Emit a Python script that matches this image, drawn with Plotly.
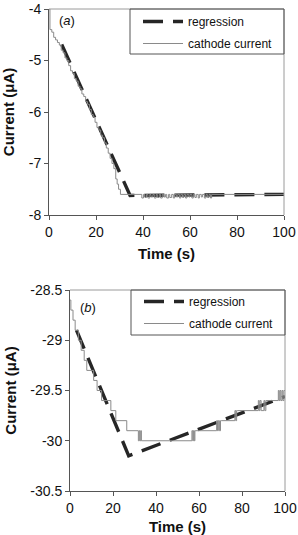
import plotly.graph_objects as go

# ---------------- data: panel (a) ----------------
a_reg_time = [5.4, 34.5, 100]
a_reg_current = [-4.69, -7.62, -7.6]

a_cur_time = [0, 0.4, 1.2, 2.0, 2.8, 3.6, 4.4, 5.2, 6.0, 6.8, 7.6, 8.4, 9.2, 10.0, 10.8,
              11.6, 12.4, 13.2, 14.0, 14.8, 15.6, 16.4, 17.2, 18.0, 18.8, 19.6, 20.4,
              21.2, 22.0, 22.8, 23.6, 24.4, 25.2, 26.0, 26.8, 27.6, 28.4, 29.0, 29.6,
              30.4,
              39.5, 40.2, 40.8, 41.5, 42.1, 42.9, 43.4, 44.2, 44.8, 45.6, 46.1, 46.9,
              47.5, 48.2, 48.8, 49.6, 50.1, 50.9, 51.4, 52.2, 52.9, 53.5, 54.2, 54.8,
              55.5, 56.1, 56.8, 57.4, 58.1, 58.7, 59.5, 60.0, 60.8, 61.4, 62.1, 62.7,
              63.5, 64.0, 64.8, 65.3, 66.1, 66.8, 67.4, 68.1, 68.7, 69.2,
              100]
a_cur_current = [-4.0, -4.4, -4.45, -4.55, -4.6, -4.65, -4.7, -4.8, -4.85, -4.95, -5.0,
                 -5.1, -5.2, -5.25, -5.35, -5.4, -5.5, -5.55, -5.65, -5.7, -5.8, -5.85,
                 -5.95, -6.05, -6.1, -6.2, -6.3, -6.35, -6.45, -6.5, -6.6, -6.7, -6.8,
                 -6.9, -7.0, -7.1, -7.3, -7.4, -7.5, -7.6,
                 -7.67, -7.6, -7.66, -7.6, -7.67, -7.6, -7.65, -7.6, -7.67, -7.6, -7.66,
                 -7.6, -7.67, -7.6, -7.65, -7.6, -7.67, -7.6, -7.66, -7.6, -7.67, -7.6,
                 -7.65, -7.6, -7.67, -7.6, -7.66, -7.6, -7.67, -7.6, -7.65, -7.6, -7.67,
                 -7.6, -7.66, -7.6, -7.67, -7.6, -7.65, -7.6, -7.67, -7.6, -7.66, -7.6,
                 -7.67, -7.6,
                 -7.6]

# ---------------- data: panel (b) ----------------
b_reg_time = [3.0, 27.3, 100]
b_reg_current = [-28.9, -30.15, -29.56]

b_cur_time = [0, 0.4, 1.4, 2.4, 3.9, 5.2, 6.6, 7.8, 9.3, 11.0, 12.6, 14.7, 19.0, 21.3,
              26.4, 31.8, 32.2, 32.5, 32.9, 33.2,
              56.7, 57.1, 57.4, 57.8, 58.1, 58.5,
              68.2, 68.6, 69.0, 69.5, 70.0, 70.6,
              76.7, 77.1, 77.5, 78.0,
              87.6, 88.0, 88.4, 88.9, 90.2, 90.6, 91.1, 91.6,
              96.9, 97.3, 97.7, 98.1, 98.6, 99.0, 99.5, 100]
b_cur_current = [-28.6, -28.7, -28.8, -28.9, -29.0, -29.1, -29.2, -29.3, -29.3, -29.4,
                 -29.5, -29.6, -29.7, -29.8, -29.9, -30.0, -29.9, -30.0, -29.9, -30.0,
                 -29.9, -30.0, -29.9, -30.0, -29.9, -29.9,
                 -29.8, -29.9, -29.8, -29.9, -29.8, -29.8,
                 -29.7, -29.8, -29.7, -29.7,
                 -29.6, -29.7, -29.6, -29.7, -29.6, -29.7, -29.6, -29.6,
                 -29.5, -29.6, -29.5, -29.6, -29.5, -29.6, -29.5, -29.5]

time_ticks = [0, 20, 40, 60, 80, 100]
a_y_ticks = [-8, -7, -6, -5, -4]
a_y_labels = ["-8", "-7", "-6", "-5", "-4"]
b_y_ticks = [-30.5, -30, -29.5, -29, -28.5]
b_y_labels = ["-30.5", "-30", "-29.5", "-29", "-28.5"]

FONT = "Liberation Sans, Arial, sans-serif"
REG_COLOR = "#262626"
CUR_COLOR = "#8a8a8a"
AX_COLOR = "#555555"

fig = go.Figure()

fig.add_trace(go.Scatter(x=a_reg_time, y=a_reg_current, mode="lines", name="regression",
                         line=dict(color=REG_COLOR, width=3.4, dash="20px,10px"),
                         xaxis="x", yaxis="y", legend="legend", legendgroup="a1"))
fig.add_trace(go.Scatter(x=a_cur_time, y=a_cur_current, mode="lines", name="cathode current",
                         line=dict(color=CUR_COLOR, width=1, shape="hv"),
                         xaxis="x", yaxis="y", legend="legend", legendgroup="a2"))
fig.add_trace(go.Scatter(x=b_reg_time, y=b_reg_current, mode="lines", name="regression",
                         line=dict(color=REG_COLOR, width=3.4, dash="20px,10px"),
                         xaxis="x2", yaxis="y2", legend="legend2", legendgroup="b1"))
fig.add_trace(go.Scatter(x=b_cur_time, y=b_cur_current, mode="lines", name="cathode current",
                         line=dict(color=CUR_COLOR, width=1, shape="hv"),
                         xaxis="x2", yaxis="y2", legend="legend2", legendgroup="b2"))

W, H = 298, 535

def xax(domain, anchor):
    return dict(domain=domain, anchor=anchor, range=[0, 100], tickvals=time_ticks,
                ticktext=[str(t) for t in time_ticks], automargin=False,
                showline=True, linecolor=AX_COLOR, linewidth=1, ticks="outside",
                ticklen=4, tickcolor=AX_COLOR, showgrid=False, zeroline=False,
                tickfont=dict(family=FONT, size=14, color="#111"),
                title=dict(text="<b>Time (s)</b>", standoff=9,
                           font=dict(family=FONT, size=15, color="#111")))

def yax(domain, anchor, rng, vals, labels):
    return dict(domain=domain, anchor=anchor, range=rng, tickvals=vals, ticktext=labels,
                automargin=False,
                showline=True, linecolor=AX_COLOR, linewidth=1, ticks="outside",
                ticklen=4, tickcolor=AX_COLOR, showgrid=False, zeroline=False,
                tickfont=dict(family=FONT, size=14, color="#111"),
                title=dict(text="<b>Current (μA)</b>", standoff=10,
                           font=dict(family=FONT, size=15, color="#111")))

fig.update_layout(
    width=W, height=H, autosize=False,
    margin=dict(l=0, r=0, t=0, b=0),
    paper_bgcolor="white", plot_bgcolor="white",
    font=dict(family=FONT, color="#111"),
    xaxis=xax([49 / W, 284 / W], "y"),
    yaxis=yax([1 - 215 / H, 1 - 9 / H], "x", [-8, -4], a_y_ticks, a_y_labels),
    xaxis2=xax([70 / W, 285 / W], "y2"),
    yaxis2=yax([1 - 491 / H, 1 - 290 / H], "x2", [-30.5, -28.5], b_y_ticks, b_y_labels),
    legend=dict(x=138 / W, y=1 - 7 / H, xanchor="left", yanchor="top",
                bgcolor="rgba(0,0,0,0)", borderwidth=0, tracegroupgap=3,
                font=dict(family=FONT, size=12, color="#111"), itemwidth=40),
    legend2=dict(x=139 / W, y=1 - 287 / H, xanchor="left", yanchor="top",
                 bgcolor="rgba(0,0,0,0)", borderwidth=0, tracegroupgap=3,
                 font=dict(family=FONT, size=12, color="#111"), itemwidth=40),
    showlegend=True,
)

# frame: top/right borders in light gray, legend boxes
for xr, yr in (("x", "y"), ("x2", "y2")):
    fig.add_shape(type="line", xref=f"{xr} domain", yref=f"{yr} domain",
                  x0=0, x1=1, y0=1, y1=1, line=dict(color="#9a9a9a", width=1))
    fig.add_shape(type="line", xref=f"{xr} domain", yref=f"{yr} domain",
                  x0=1, x1=1, y0=0, y1=1, line=dict(color="#9a9a9a", width=1))

fig.add_shape(type="rect", xref="paper", yref="paper",
              x0=130 / W, x1=284 / W, y0=1 - 54 / H, y1=1 - 9 / H,
              line=dict(color="#555", width=1), fillcolor="rgba(0,0,0,0)")
fig.add_shape(type="rect", xref="paper", yref="paper",
              x0=131 / W, x1=285 / W, y0=1 - 335 / H, y1=1 - 290 / H,
              line=dict(color="#555", width=1), fillcolor="rgba(0,0,0,0)")

fig.add_annotation(text="(<i>a</i>)", xref="paper", yref="paper", x=57 / W, y=1 - 20 / H,
                   xanchor="left", yanchor="middle", showarrow=False,
                   font=dict(family=FONT, size=13, color="#111"))
fig.add_annotation(text="(<i>b</i>)", xref="paper", yref="paper", x=78 / W, y=1 - 307 / H,
                   xanchor="left", yanchor="middle", showarrow=False,
                   font=dict(family=FONT, size=13, color="#111"))

fig.write_html("out.html", config={"displayModeBar": False},
               post_script="document.body.style.margin='0';document.body.style.overflow='hidden';")
